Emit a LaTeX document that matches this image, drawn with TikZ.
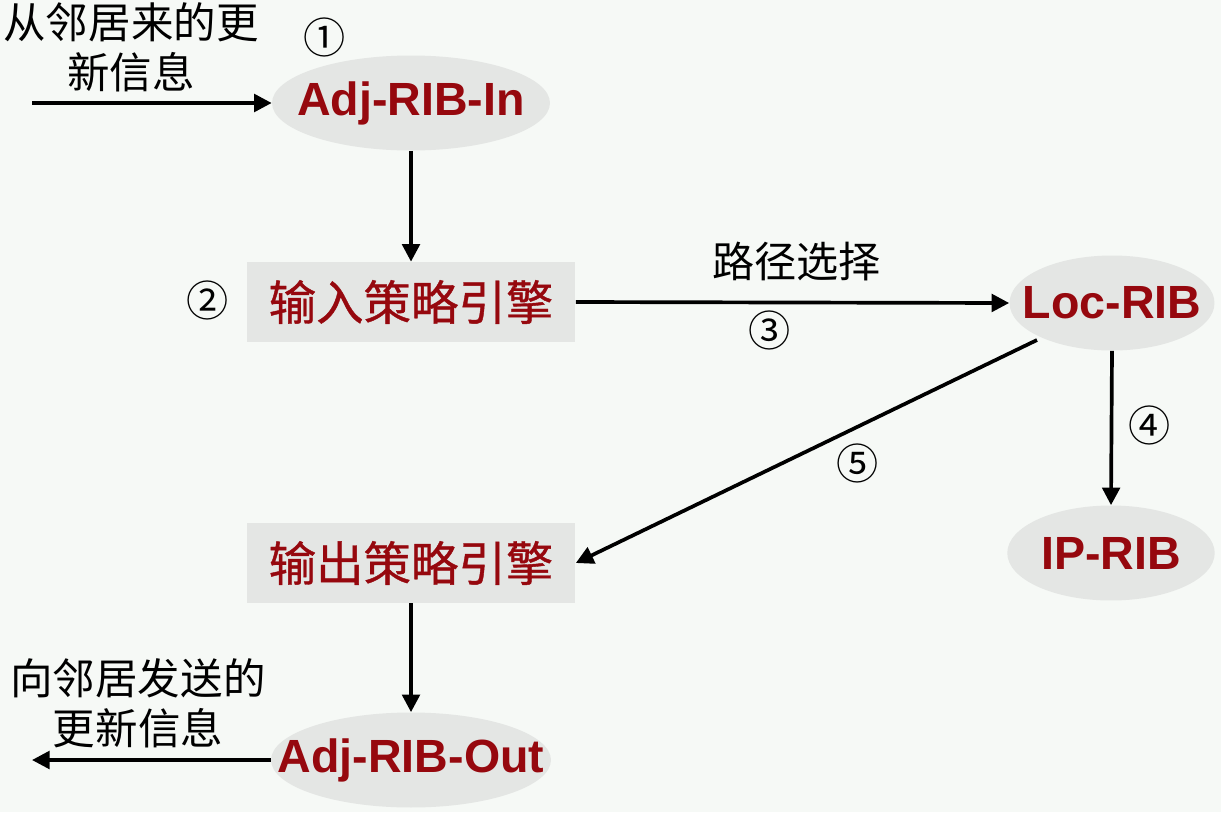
\documentclass[tikz,border=0pt]{standalone}
\usepackage{fontspec}
\setmainfont{Liberation Sans}
\newfontfamily\cjk{Noto Sans CJK SC}
\newfontfamily\cjkb{Noto Sans CJK SC}[FakeBold=0.8]
\usepackage{xcolor}
\usetikzlibrary{shapes.geometric, arrows.meta}
\definecolor{bgc}{RGB}{246,249,246}
\definecolor{ribfill}{RGB}{228,230,228}
\definecolor{ribred}{RGB}{150,8,14}
\newcommand{\ribtext}[1]{\makebox[0pt][c]{#1}}

\begin{document}
\begin{tikzpicture}[x=0.02cm, y=-0.02cm]
\tikzset{
  rib/.style={ellipse,fill=ribfill,minimum width=5.56cm,minimum height=1.9cm,inner sep=0pt,text=ribred,font=\fontsize{26.5}{30}\selectfont\bfseries},
  eng/.style={rectangle,fill=ribfill,minimum width=6.58cm,minimum height=1.6cm,inner sep=0pt,text=ribred,font=\cjkb\fontsize{27}{30}\selectfont},
  ar/.style={-{Triangle[length=10pt,width=10pt]},line width=2.1pt,draw=black},
  note/.style={align=center,inner sep=0pt,font=\cjk\fontsize{24.2}{28.5}\selectfont},
  num/.style={inner sep=0pt,font=\cjk\fontsize{24}{26}\selectfont}
}
\useasboundingbox[fill=bgc] (0,0) rectangle (1221,812);
% ---- nodes
\node[rib] (adjin) at (411,103) {\ribtext{Adj-RIB-In}};
\node[eng] (inpol) at (411,302) {输入策略引擎};
\node[rib,minimum width=4.1cm] (loc) at (1112,303) {\ribtext{Loc-RIB}};
\node[rib,minimum width=4.15cm] (ip) at (1111,553) {\ribtext{IP-RIB}};
\node[eng] (outpol) at (411,563) {输出策略引擎};
\node[rib,minimum width=5.6cm] (adjout) at (411,760) {\ribtext{Adj-RIB-Out}};
% ---- free ends
\coordinate (from) at (32,103);
\coordinate (to) at (32,760);
% ---- texts
\node[note] (fromtxt) at (131,47) {从邻居来的更\\新信息};
\node[note] (totxt) at (138,703) {向邻居发送的\\更新信息};
\node[num] (n1) at (325,37) {①};
\node[num] (n2) at (208,300) {②};
\node[num] (n3) at (770,330) {③};
\node[num] (n4) at (1150,425) {④};
\node[num] (n5) at (858,463) {⑤};
% ---- arrows
\draw[ar] (from) -- (adjin.west);
\draw[ar] (adjin.south) -- (inpol.north);
\draw[ar] (inpol.east) -- node[above=8pt,pos=0.51,font=\cjk\fontsize{24}{28}\selectfont]{路径选择} (loc.west);
\draw[ar] (loc.south) -- (ip.north);
\draw[ar] (1037,340) -- (outpol.east);
\draw[ar] (outpol.south) -- (adjout.north);
\draw[ar] (adjout.west) -- (to);
\end{tikzpicture}
\end{document}
